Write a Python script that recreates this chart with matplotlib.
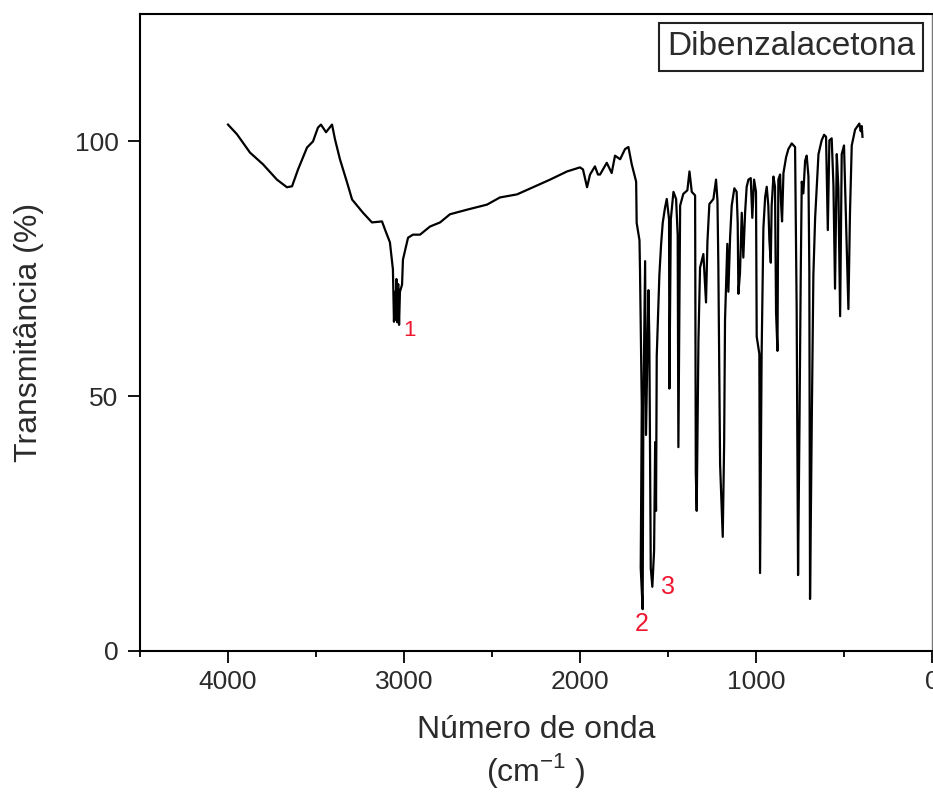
import matplotlib
matplotlib.use("Agg")
import matplotlib.pyplot as plt
from matplotlib.ticker import MultipleLocator

plt.rcParams["font.family"] = ["Liberation Sans", "DejaVu Sans"]

wavenumber = [
    4000, 3949, 3875, 3801, 3722, 3665, 3636, 3602, 3551, 3517, 3489, 3472, 3443, 3409,
    3392, 3364, 3324, 3295, 3233, 3182, 3125, 3108, 3080, 3063, 3057, 3052, 3048, 3043,
    3038, 3033, 3028, 3023, 3011, 3006, 2977, 2949, 2909, 2852, 2795, 2739, 2642, 2528,
    2455, 2358, 2267, 2170, 2074, 2000, 1983, 1960, 1943, 1915, 1898, 1886, 1848, 1820,
    1801, 1772, 1744, 1725, 1706, 1681, 1678, 1662, 1659, 1649, 1655, 1644, 1640, 1630,
    1625, 1611, 1606, 1598, 1589, 1579, 1573, 1568, 1564, 1549, 1539, 1530, 1517, 1507,
    1494, 1492, 1484, 1469, 1454, 1445, 1441, 1431, 1413, 1390, 1378, 1365, 1346, 1342,
    1337, 1327, 1318, 1299, 1284, 1276, 1265, 1242, 1227, 1219, 1214, 1204, 1189, 1181,
    1176, 1163, 1157, 1147, 1138, 1123, 1110, 1104, 1100, 1091, 1081, 1072, 1062, 1053,
    1043, 1030, 1021, 1011, 1000, 996, 981, 977, 968, 958, 948, 939, 930, 924,
    916, 911, 901, 892, 886, 878, 873, 863, 858, 852, 844, 829, 816, 797,
    778, 769, 761, 753, 746, 740, 731, 721, 712, 702, 697, 693, 683, 674,
    664, 645, 627, 613, 602, 592, 583, 570, 560, 551, 541, 532, 522, 513,
    500, 484, 475, 466, 456, 437, 413, 405, 399, 395,
]
transmittance = [
    103.3, 101.4, 97.8, 95.5, 92.5, 91.0, 91.2, 94.5, 98.8, 100.0, 102.7, 103.3, 101.8, 103.3,
    100.4, 96.5, 92.0, 88.6, 86.0, 84.1, 84.3, 82.7, 80.2, 74.9, 64.6, 70.5, 65.0, 73.0,
    64.5, 72.0, 64.0, 70.5, 71.9, 76.8, 81.1, 81.7, 81.7, 83.3, 84.1, 85.7, 86.6, 87.6,
    89.0, 89.6, 91.0, 92.5, 94.1, 94.9, 94.5, 91.0, 93.5, 95.1, 93.5, 93.5, 95.8, 93.8,
    97.2, 96.5, 98.5, 98.9, 95.5, 92.1, 84.0, 80.6, 74.5, 48.1, 16.3, 8.2, 47.4, 76.5,
    42.4, 70.8, 61.0, 16.3, 12.6, 19.7, 41.0, 27.5, 57.9, 73.8, 79.9, 84.0, 87.0, 88.7,
    84.7, 51.5, 84.7, 90.1, 88.7, 81.6, 40.0, 87.4, 89.7, 90.4, 94.1, 90.1, 89.4, 34.9,
    27.5, 61.0, 75.2, 77.9, 68.4, 80.3, 87.7, 88.7, 92.5, 88.4, 75.9, 36.6, 22.4, 40.7,
    65.0, 79.9, 70.5, 81.3, 87.4, 90.8, 90.1, 84.0, 70.1, 74.2, 86.0, 77.2, 86.0, 91.1,
    92.5, 92.8, 85.0, 92.5, 90.1, 61.7, 58.3, 15.3, 58.3, 83.0, 89.1, 91.1, 87.4, 80.6,
    76.2, 87.4, 93.1, 91.1, 66.4, 58.9, 92.5, 93.5, 88.1, 84.3, 93.8, 96.9, 98.5, 99.6,
    98.9, 67.1, 14.9, 44.4, 73.2, 92.1, 89.8, 96.2, 97.2, 93.1, 74.5, 10.2, 45.4, 73.8,
    85.0, 97.5, 100.2, 101.3, 100.9, 82.6, 100.2, 100.6, 91.4, 71.1, 97.5, 90.8, 65.7, 97.5,
    99.2, 78.6, 67.1, 86.0, 99.2, 102.3, 103.5, 102.0, 103.0, 100.9,
]

# rotulos dos picos
peak_labels = ["1", "2", "3"]
peak_wn = [2966, 1648, 1500]
peak_tr = [62.9, 5.3, 12.6]
peak_size = [16, 18, 18]

x_major = [4000, 3000, 2000, 1000, 0]
y_major = [0, 50, 100]

text_color = "#2b2b2b"

fig = plt.figure(figsize=(9.33, 7.92), dpi=100)
ax = fig.add_axes([140 / 933, 141 / 792, 792 / 933, 637 / 792])

ax.plot(wavenumber, transmittance, color="black", lw=1.6)

for lab, wn, tr, fs in zip(peak_labels, peak_wn, peak_tr, peak_size):
    ax.text(wn, tr, lab, color="#f01830", fontsize=fs, ha="center", va="center")

ax.set_xlim(4500, 0)
ax.set_ylim(0, 125)
ax.set_xticks(x_major)
ax.set_yticks(y_major)
ax.xaxis.set_minor_locator(MultipleLocator(500))

ax.tick_params(axis="both", which="major", direction="out", length=8.5, width=1.3,
               labelsize=19, labelcolor=text_color)
ax.tick_params(axis="x", which="major", pad=5)
ax.tick_params(axis="y", which="major", pad=7)
ax.tick_params(axis="x", which="minor", direction="out", length=4.5, width=1.3)

for side in ["left", "bottom", "top"]:
    ax.spines[side].set_linewidth(1.5)
ax.spines["right"].set_linewidth(1.0)
ax.spines["right"].set_color("#777777")

ax.set_xlabel("Número de onda\n(cm$^{\\mathregular{-1}}$ )", fontsize=23, color=text_color,
              labelpad=15, linespacing=1.2)
ax.set_ylabel("Transmitância (%)", fontsize=23, color=text_color, labelpad=22)

ax.text(0.9785, 0.973, "Dibenzalacetona", transform=ax.transAxes, ha="right", va="top",
        fontsize=24, color=text_color,
        bbox=dict(boxstyle="square,pad=0.25", facecolor="white", edgecolor="#222222", lw=1.5))

fig.savefig("out.png", dpi=100)
